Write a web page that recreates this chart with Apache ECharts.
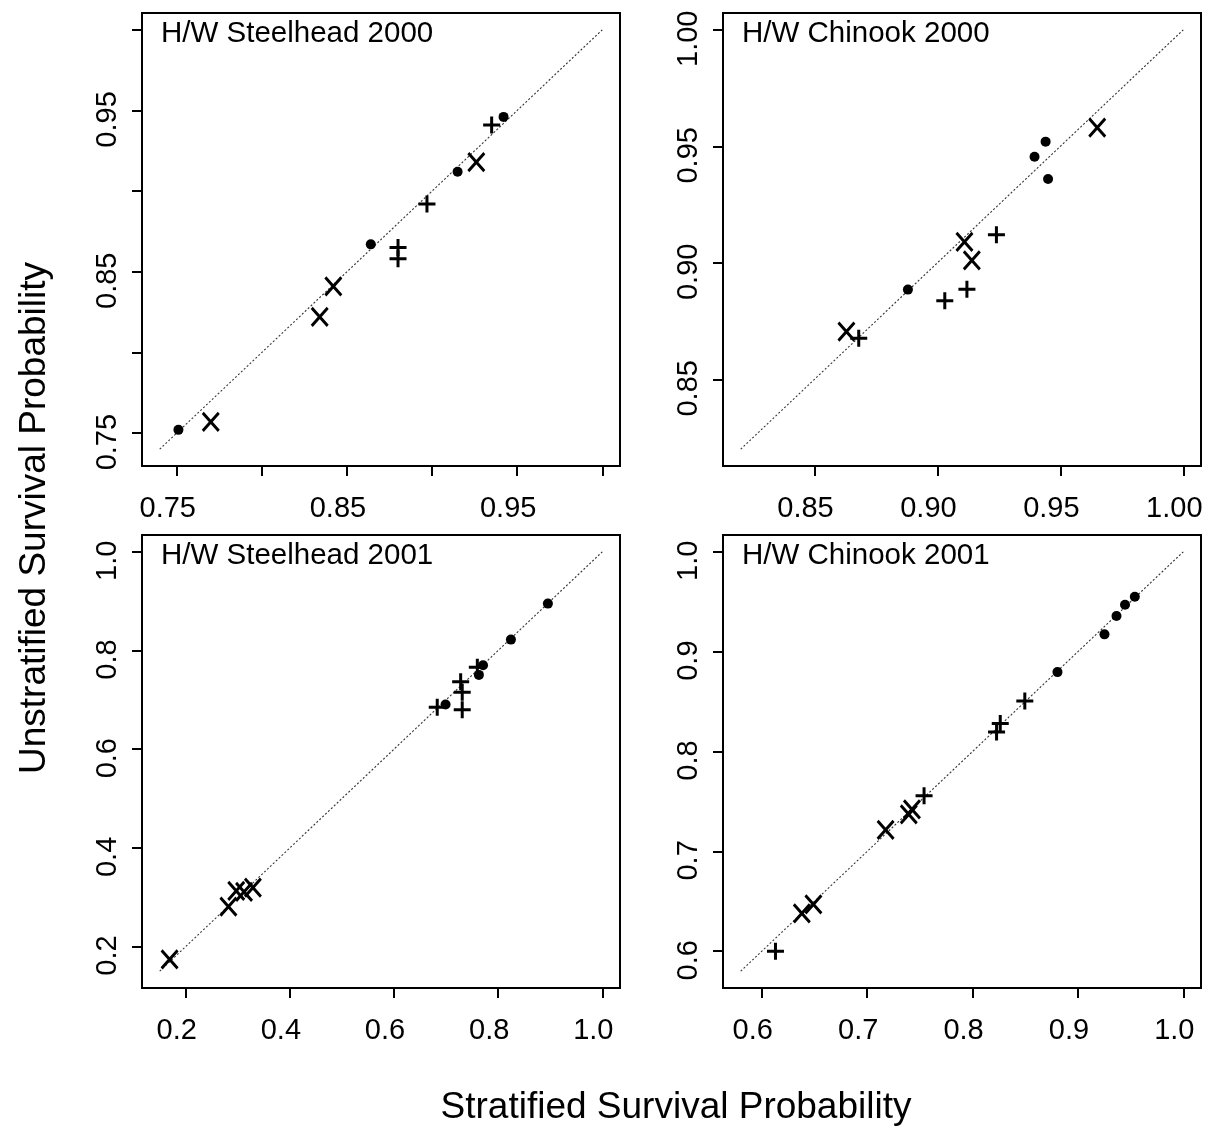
<!DOCTYPE html>
<html>
<head>
<meta charset="utf-8">
<script src="https://cdn.jsdelivr.net/npm/echarts@6/dist/echarts.min.js"></script>
<style>
html,body{margin:0;padding:0;background:#fff;}
#chart{width:1216px;height:1132px;}
</style>
</head>
<body>
<div id="chart"></div>
<script>
// ---- data (stratified x, unstratified y) ----
const panelTitles = ['H/W Steelhead 2000', 'H/W Chinook 2000', 'H/W Steelhead 2001', 'H/W Chinook 2001'];

const sh2000Dot  = [[0.751,0.752],[0.864,0.867],[0.915,0.912],[0.942,0.946]];
const sh2000Plus = [[0.935,0.941],[0.897,0.892],[0.880,0.865],[0.880,0.858]];
const sh2000X    = [[0.770,0.757],[0.834,0.822],[0.842,0.841],[0.926,0.918]];

const ch2000Dot  = [[0.944,0.952],[0.9395,0.9455],[0.945,0.936],[0.888,0.8885]];
const ch2000Plus = [[0.924,0.912],[0.912,0.8887],[0.903,0.8837],[0.868,0.8676]];
const ch2000X    = [[0.965,0.958],[0.911,0.909],[0.914,0.901],[0.863,0.8705]];

const sh2001Dot  = [[0.8955,0.895],[0.8245,0.822],[0.771,0.770],[0.763,0.7505],[0.699,0.6905]];
const sh2001Plus = [[0.683,0.685],[0.728,0.7365],[0.731,0.7155],[0.731,0.680],[0.760,0.766]];
const sh2001X    = [[0.169,0.174],[0.282,0.281],[0.297,0.313],[0.312,0.311],[0.329,0.3195]];

const ch2001Dot  = [[0.954,0.955],[0.9447,0.947],[0.9366,0.9357],[0.9252,0.9173],[0.8806,0.8795]];
const ch2001Plus = [[0.8496,0.8505],[0.8263,0.828],[0.8228,0.8195],[0.754,0.7556],[0.613,0.600]];
const ch2001X    = [[0.7425,0.742],[0.7395,0.737],[0.7175,0.7215],[0.649,0.647],[0.638,0.638]];

// axis limits (data range) per panel
const limits = [[0.74,1.0],[0.82,1.0],[0.15,1.0],[0.58,1.0]];
// tick values
const ticks1 = [0.75,0.80,0.85,0.90,0.95,1.00];
const ticks2 = [0.85,0.90,0.95,1.00];
const ticks3 = [0.2,0.4,0.6,0.8,1.0];
const ticks4 = [0.6,0.7,0.8,0.9,1.0];
// labelled tick values
const labels1 = [0.75,0.85,0.95];
const labels2 = [0.85,0.90,0.95,1.00];
const labels3 = [0.2,0.4,0.6,0.8,1.0];
const labels4 = [0.6,0.7,0.8,0.9,1.0];

const xTitle = 'Stratified Survival Probability';
const yTitle = 'Unstratified Survival Probability';

// ---- layout ----
const FONT = '"Liberation Sans", Arial, Helvetica, sans-serif';
const grids = [
  {left:142, top:13,  width:478, height:453},
  {left:723, top:13,  width:478, height:453},
  {left:142, top:535, width:478, height:453},
  {left:723, top:535, width:478, height:453}
];
const panels = [
  {dot:sh2000Dot, plus:sh2000Plus, x:sh2000X, ticks:ticks1, labels:labels1, dig:2},
  {dot:ch2000Dot, plus:ch2000Plus, x:ch2000X, ticks:ticks2, labels:labels2, dig:2},
  {dot:sh2001Dot, plus:sh2001Plus, x:sh2001X, ticks:ticks3, labels:labels3, dig:1},
  {dot:ch2001Dot, plus:ch2001Plus, x:ch2001X, ticks:ticks4, labels:labels4, dig:1}
];

function ext(lim){ const d = lim[1]-lim[0]; return [lim[0]-0.04*d, lim[1]+0.04*d]; }

const option = {
  animation:false,
  backgroundColor:'#fff',
  grid: grids.map(g => Object.assign({show:true, borderColor:'#000', borderWidth:2, backgroundColor:'transparent', containLabel:false}, g)),
  xAxis: [], yAxis: [], series: [], graphic: []
};

panels.forEach((p,i) => {
  const e = ext(limits[i]);
  const common = (isY) => ({
    type:'value', gridIndex:i, min:e[0], max:e[1],
    axisLine:{show:false},
    splitLine:{show:false},
    axisTick:{show:true, customValues:p.ticks, length:10, lineStyle:{color:'#000', width:2}},
    axisLabel:{
      show:true, customValues:p.labels, color:'#000', fontFamily:FONT, fontSize:29,
      margin: isY ? 20 : 28,
      rotate: isY ? 90 : 0,
      padding: [0,18,0,0],
      formatter: v => Number(v).toFixed(p.dig)
    }
  });
  option.xAxis.push(common(false));
  option.yAxis.push(common(true));
  option.series.push({
    type:'line', xAxisIndex:i, yAxisIndex:i, data:[[limits[i][0],limits[i][0]],[limits[i][1],limits[i][1]]],
    symbol:'none', silent:true, z:1,
    lineStyle:{color:'#333', width:1.1, type:[2,2]}
  });
  option.series.push({
    type:'scatter', xAxisIndex:i, yAxisIndex:i, data:p.dot, symbol:'circle', symbolSize:10, z:3,
    itemStyle:{color:'#000', opacity:1}, silent:true
  });
  option.series.push({
    type:'scatter', xAxisIndex:i, yAxisIndex:i, data:p.plus, symbol:'path://M0,5L10,5M5,0L5,10', symbolSize:17, z:3,
    itemStyle:{color:'none', borderColor:'#000', borderWidth:3, opacity:1}, silent:true
  });
  option.series.push({
    type:'scatter', xAxisIndex:i, yAxisIndex:i, data:p.x, symbol:'path://M0,0L10,11M10,0L0,11', symbolSize:[16,18], z:3,
    itemStyle:{color:'none', borderColor:'#000', borderWidth:3, opacity:1}, silent:true
  });
  const g = grids[i];
  option.graphic.push({
    type:'text', left:g.left+19, top:g.top+6, silent:true,
    style:{text:panelTitles[i], font:'29.5px '+FONT, fill:'#000'}
  });
});

option.graphic.push({
  type:'text', x:676, y:1108, silent:true,
  style:{text:xTitle, font:'37px '+FONT, fill:'#000', align:'center', verticalAlign:'middle'}
});
option.graphic.push({
  type:'text', x:35, y:518, rotation:Math.PI/2, silent:true,
  style:{text:yTitle, font:'37px '+FONT, fill:'#000', align:'center', verticalAlign:'middle'}
});

const chart = echarts.init(document.getElementById('chart'), null, {renderer:'canvas'});
chart.setOption(option);
</script>
</body>
</html>
